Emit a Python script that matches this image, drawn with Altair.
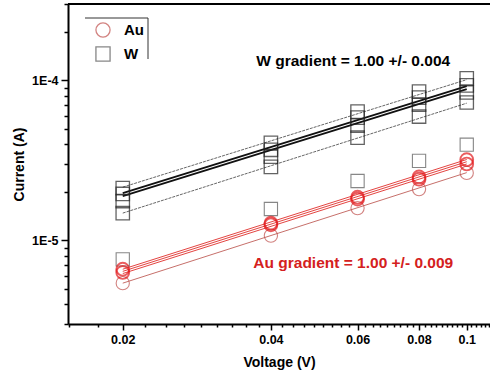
import altair as alt
import pandas as pd

FONT = "Liberation Sans"

# ---- data ----
voltage = [0.02, 0.04, 0.06, 0.08, 0.1]

w_dev1 = [2.12e-5, 4.07e-5, 6.38e-5, 8.50e-5, 1.03e-4]
w_dev2 = [1.95e-5, 3.68e-5, 5.85e-5, 7.80e-5, 9.30e-5]
w_dev3 = [1.76e-5, 3.33e-5, 5.21e-5, 7.06e-5, 8.40e-5]
w_dev4 = [1.48e-5, 2.88e-5, 4.38e-5, 5.94e-5, 7.27e-5]
w_dev5 = [7.60e-6, 1.57e-5, 2.35e-5, 3.14e-5, 3.96e-5]

au_dev1 = [6.60e-6, 1.28e-5, 1.86e-5, 2.49e-5, 3.19e-5]
au_dev2 = [6.30e-6, 1.25e-5, 1.81e-5, 2.41e-5, 3.00e-5]
au_dev3 = [5.40e-6, 1.07e-5, 1.59e-5, 2.09e-5, 2.64e-5]

fit_voltage = [0.02, 0.1]
w_fit1 = [2.15e-5, 1.01e-4]
w_fit2 = [1.97e-5, 9.20e-5]
w_fit3 = [1.89e-5, 8.80e-5]
w_fit4 = [1.48e-5, 7.20e-5]
au_fit1 = [6.60e-6, 3.20e-5]
au_fit2 = [6.40e-6, 3.10e-5]
au_fit3 = [6.20e-6, 3.00e-5]
au_fit4 = [5.40e-6, 2.65e-5]

materials = ["Au", "W"]
w_label = "W gradient = 1.00 +/- 0.004"
au_label = "Au gradient = 1.00 +/- 0.009"
w_label_pos = (0.0588, 1.32e-4)
au_label_pos = (0.0588, 7.2e-6)

x_major = [0.02, 0.04, 0.06, 0.08, 0.1]
y_major = [1e-5, 1e-4]

# ---- tables ----
def pts(devs):
    rows = []
    for name, mat, vals in devs:
        for v, i in zip(voltage, vals):
            rows.append({"V": v, "I": i, "device": name, "material": mat})
    return pd.DataFrame(rows)

def fits(devs):
    rows = []
    for name, vals in devs:
        for v, i in zip(fit_voltage, vals):
            rows.append({"V": v, "I": i, "fit": name})
    return pd.DataFrame(rows)

legend_pts = pts([("w5", "W", w_dev5), ("au3", "Au", au_dev3)])
w_pts = pts([("w1", "W", w_dev1), ("w2", "W", w_dev2), ("w3", "W", w_dev3), ("w4", "W", w_dev4)])
au_pts = pts([("au1", "Au", au_dev1), ("au2", "Au", au_dev2)])

w_bold = fits([("wf2", w_fit2), ("wf3", w_fit3)])
w_thin = fits([("wf1", w_fit1), ("wf4", w_fit4)])
au_bold = fits([("af1", au_fit1), ("af2", au_fit2), ("af3", au_fit3)])
au_thin = fits([("af4", au_fit4)])

# ---- axes ----
x_minor = []
for b in [0.0, 0.02, 0.04, 0.06, 0.08, 0.1]:
    for k in range(1, 9):
        val = round(b + k * 0.02 / 9, 6)
        if 0.0155 < val < 0.1115:
            x_minor.append(val)
x_ticks = sorted(x_major + x_minor)

y_ticks = []
for dec in [1e-6, 1e-5, 1e-4]:
    for m in range(1, 10):
        val = float(f"{m * dec:.1e}")
        if 3e-6 <= val <= 3e-4:
            y_ticks.append(val)

x_is_major = "abs(datum.value*50 - round(datum.value*50)) < 1e-6"
y_is_major = "datum.value == 0.0001 || datum.value == 0.00001"

x_scale = alt.Scale(type="log", domain=[0.01548, 0.1115], nice=False)
y_scale = alt.Scale(type="log", domain=[3e-6, 3e-4], nice=False)

x_axis = alt.Axis(
    values=x_ticks,
    labelExpr=f"{x_is_major} ? format(datum.value, '.2~f') : ''",
    tickSize={"condition": {"test": x_is_major, "value": 6}, "value": 3},
    title="Voltage (V)",
    labelOverlap=False,
    labelPadding=3,
    titlePadding=10,
)
y_axis = alt.Axis(
    values=y_ticks,
    labelExpr="datum.value == 0.0001 ? '1E-4' : (datum.value == 0.00001 ? '1E-5' : '')",
    tickSize={"condition": {"test": y_is_major, "value": 7}, "value": 4},
    title="Current (A)",
    labelOverlap=False,
    labelPadding=3,
    titlePadding=5,
)

X = alt.X("V:Q", scale=x_scale, axis=x_axis)
Y = alt.Y("I:Q", scale=y_scale, axis=y_axis)

# ---- layers ----
lines_w_thin = alt.Chart(w_thin).mark_line(color="#555555", strokeWidth=0.9, strokeDash=[3, 1]).encode(
    x=X, y=Y, detail="fit:N")
lines_w_bold = alt.Chart(w_bold).mark_line(color="#111111", strokeWidth=1.8).encode(
    x=X, y=Y, detail="fit:N")
lines_au_thin = alt.Chart(au_thin).mark_line(color="#b84a44", strokeWidth=0.8).encode(
    x=X, y=Y, detail="fit:N")
lines_au_bold = alt.Chart(au_bold).mark_line(color="#e0302c", strokeWidth=1.0, opacity=0.9).encode(
    x=X, y=Y, detail="fit:N")

legend = alt.Legend(
    title=None, orient="none", legendX=27, legendY=18, padding=0,
    symbolSize=200, symbolStrokeWidth=1.3, labelOffset=13, rowPadding=4,
    labelFont=FONT, labelFontWeight="bold", labelFontSize=15, labelColor="black",
)

pts_legend = alt.Chart(legend_pts).mark_point(filled=False, size=175, strokeWidth=1.1).encode(
    x=X, y=Y,
    shape=alt.Shape("material:N", scale=alt.Scale(domain=materials, range=["circle", "square"]), legend=legend),
    color=alt.Color("material:N", scale=alt.Scale(domain=materials, range=["#c0504d", "#555555"]), legend=legend),
)
pts_w = alt.Chart(w_pts).mark_point(filled=False, shape="square", size=180, strokeWidth=1.3, color="#222222").encode(
    x=X, y=Y, detail="device:N")
pts_au = alt.Chart(au_pts).mark_point(filled=False, shape="circle", size=165, strokeWidth=1.9, color="#e2181b").encode(
    x=X, y=Y, detail="device:N")

w_txt_df = pd.DataFrame({"V": [w_label_pos[0]], "I": [w_label_pos[1]], "label": [w_label]})
au_txt_df = pd.DataFrame({"V": [au_label_pos[0]], "I": [au_label_pos[1]], "label": [au_label]})
w_text = alt.Chart(w_txt_df).mark_text(font=FONT, fontWeight="bold", fontSize=15.5, align="center",
                                      baseline="middle", color="#000000").encode(x=X, y=Y, text="label:N")
au_text = alt.Chart(au_txt_df).mark_text(font=FONT, fontWeight="bold", fontSize=15.5, align="center",
                                        baseline="middle", color="#d42020").encode(x=X, y=Y, text="label:N")

one = pd.DataFrame({"k": [0]})
top_border = alt.Chart(one).mark_rule(color="black", strokeWidth=2).encode(
    x=alt.value(0), x2=alt.value(430), y=alt.value(0))
leg_top = alt.Chart(one).mark_rule(color="#333333", strokeWidth=1).encode(
    x=alt.value(17), x2=alt.value(80), y=alt.value(14))
leg_right = alt.Chart(one).mark_rule(color="#333333", strokeWidth=1).encode(
    x=alt.value(80), y=alt.value(14), y2=alt.value(55))

chart = alt.layer(
    lines_w_thin, lines_w_bold, lines_au_thin, lines_au_bold,
    pts_legend, pts_w, pts_au, w_text, au_text, top_border, leg_top, leg_right,
).properties(
    width=422, height=320,
    padding={"left": 68, "top": 4, "right": 0, "bottom": 54},
    autosize="none",
).configure_view(stroke=None).configure_axis(
    grid=False, domainColor="black", domainWidth=2, tickColor="black", tickWidth=1.5,
    labelFont=FONT, labelFontWeight="bold", labelFontSize=12.5, labelColor="black",
    titleFont=FONT, titleFontWeight="bold", titleFontSize=14, titleColor="black",
)

chart.save("out.html", embed_options={"renderer": "svg", "actions": False})
